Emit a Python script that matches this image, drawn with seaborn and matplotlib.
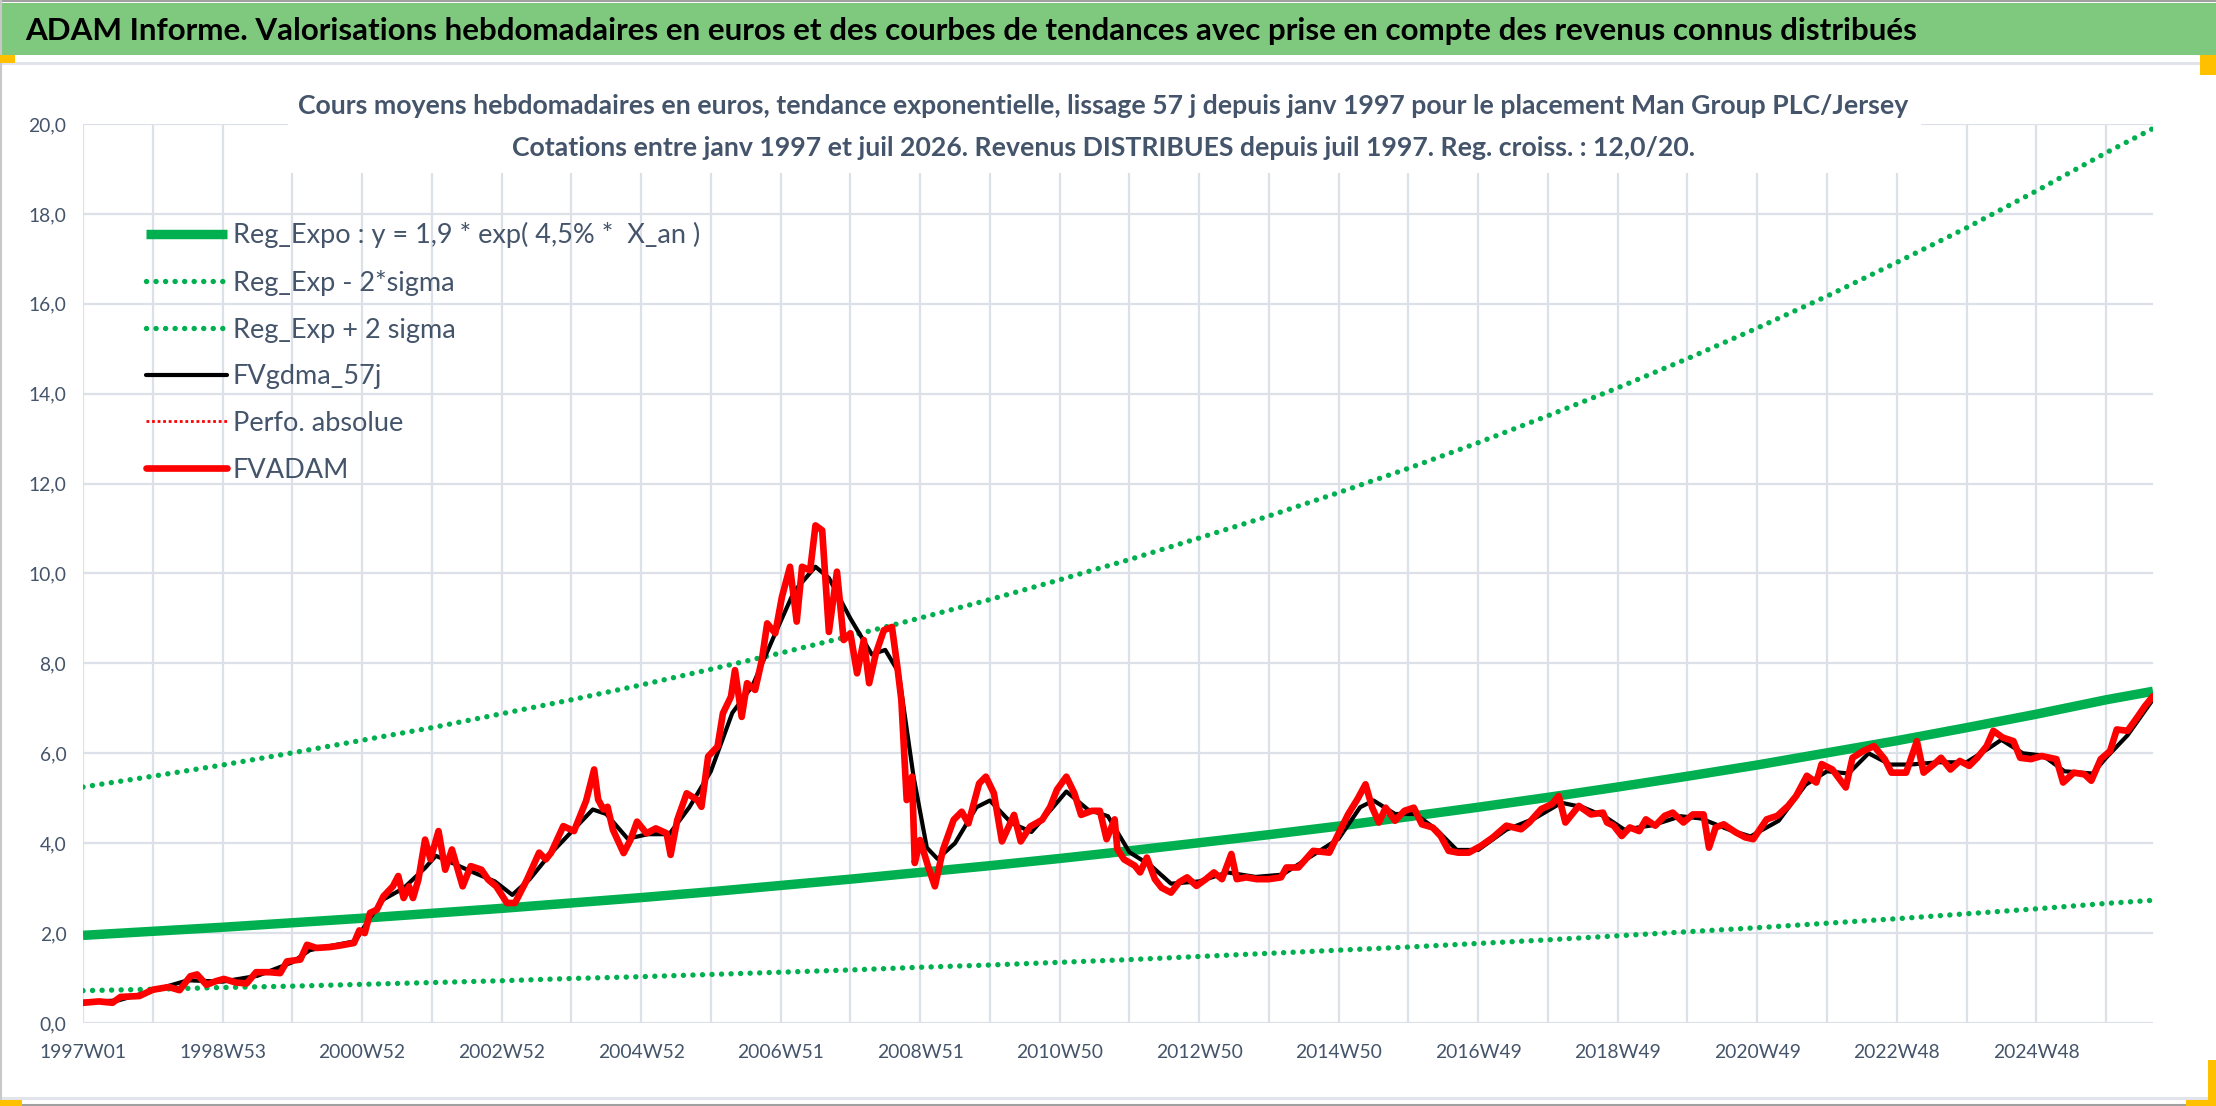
import matplotlib
matplotlib.use('Agg')
import matplotlib.pyplot as plt
import seaborn as sns
from matplotlib.patches import Rectangle
from matplotlib.lines import Line2D

# ---------------- data ----------------
x_labels = ['1997W01', '1998W53', '2000W52', '2002W52', '2004W52', '2006W51', '2008W51',
            '2010W50', '2012W50', '2014W50', '2016W49', '2018W49', '2020W49', '2022W48', '2024W48']

trend_week = [0, 52, 104, 156, 208, 260, 312, 364, 416, 468, 520, 572, 624, 676, 728, 780,
              832, 884, 936, 988, 1040, 1092, 1144, 1196, 1248, 1300, 1352, 1404, 1456, 1508, 1543]
reg_val = [1.95, 2.04, 2.13, 2.23, 2.33, 2.44, 2.55, 2.67, 2.79, 2.92, 3.06, 3.20, 3.35, 3.50, 3.66,
           3.83, 4.01, 4.19, 4.38, 4.59, 4.80, 5.02, 5.25, 5.49, 5.74, 6.01, 6.28, 6.57, 6.87, 7.19, 7.38]
lo_val = [0.72, 0.75, 0.79, 0.82, 0.86, 0.90, 0.94, 0.99, 1.03, 1.08, 1.13, 1.18, 1.24, 1.29, 1.35,
          1.41, 1.48, 1.55, 1.62, 1.69, 1.77, 1.85, 1.94, 2.03, 2.12, 2.22, 2.32, 2.43, 2.54, 2.66, 2.73]
hi_val = [5.25, 5.49, 5.74, 6.01, 6.29, 6.57, 6.88, 7.19, 7.52, 7.87, 8.23, 8.61, 9.01, 9.42, 9.86,
          10.31, 10.79, 11.28, 11.80, 12.34, 12.91, 13.51, 14.13, 14.78, 15.46, 16.17, 16.92, 17.69,
          18.51, 19.36, 19.90]

fv_week = [0, 12, 22, 28, 42, 52, 64, 72, 80, 85, 92, 99, 105, 114, 122, 129, 139, 147, 152, 162,
           167, 174, 184, 191, 202, 206, 210, 214, 219, 224, 231, 235, 239, 243, 246, 250, 255, 259,
           265, 270, 275, 283, 289, 297, 302, 308, 316, 322, 331, 340, 345, 349, 358, 366, 375, 381,
           384, 388, 391, 395, 403, 408, 413, 420, 427, 435, 438, 443, 450, 458, 461, 466, 473, 477,
           483, 486, 491, 495, 501, 506, 510, 516, 521, 527, 532, 536, 542, 546, 551, 556, 562, 567,
           572, 577, 582, 586, 591, 597, 603, 607, 610, 614, 618, 620, 624, 630, 635, 641, 649, 655,
           660, 668, 673, 679, 685, 694, 699, 706, 715, 721, 726, 733, 739, 744, 752, 758, 763, 769,
           771, 776, 784, 788, 793, 799, 804, 811, 817, 823, 830, 837, 843, 849, 856, 860, 867, 875,
           884, 893, 897, 906, 917, 929, 935, 943, 950, 956, 961, 966, 971, 978, 985, 992, 998, 1006,
           1012, 1018, 1025, 1033, 1042, 1051, 1061, 1072, 1078, 1087, 1095, 1100, 1105, 1115, 1124,
           1133, 1136, 1141, 1147, 1153, 1160, 1165, 1172, 1179, 1185, 1193, 1200, 1208, 1212, 1217,
           1223, 1232, 1239, 1245, 1255, 1263, 1271, 1277, 1285, 1292, 1296, 1304, 1314, 1319, 1327,
           1335, 1343, 1348, 1359, 1367, 1372, 1381, 1385, 1392, 1399, 1406, 1412, 1419, 1424, 1431,
           1439, 1444, 1452, 1460, 1471, 1476, 1484, 1492, 1497, 1504, 1511, 1516, 1524, 1531, 1537, 1543]
fv_val = [0.45, 0.48, 0.45, 0.58, 0.60, 0.74, 0.80, 0.73, 1.04, 1.08, 0.85, 0.93, 0.98, 0.90, 0.88,
          1.13, 1.13, 1.11, 1.37, 1.41, 1.74, 1.67, 1.69, 1.72, 1.78, 2.06, 2.00, 2.45, 2.52, 2.82,
          3.04, 3.27, 2.78, 3.04, 2.78, 3.19, 4.08, 3.64, 4.27, 3.41, 3.86, 3.04, 3.49, 3.41, 3.19,
          3.04, 2.67, 2.67, 3.19, 3.79, 3.64, 3.79, 4.38, 4.27, 4.94, 5.64, 4.97, 4.75, 4.81, 4.30,
          3.78, 4.07, 4.48, 4.22, 4.33, 4.22, 3.74, 4.52, 5.11, 4.96, 4.81, 5.93, 6.15, 6.89, 7.26,
          7.85, 6.81, 7.56, 7.41, 8.07, 8.89, 8.67, 9.48, 10.15, 8.93, 10.15, 10.07, 11.07, 10.96,
          8.70, 10.04, 8.52, 8.67, 7.78, 8.52, 7.56, 8.22, 8.74, 8.81, 7.93, 7.19, 4.96, 5.48, 3.56,
          4.07, 3.48, 3.04, 3.85, 4.52, 4.70, 4.44, 5.33, 5.48, 5.11, 4.04, 4.63, 4.04, 4.37, 4.52,
          4.81, 5.19, 5.48, 5.11, 4.63, 4.72, 4.72, 4.09, 4.53, 3.87, 3.64, 3.50, 3.35, 3.68, 3.20,
          3.01, 2.90, 3.13, 3.24, 3.05, 3.20, 3.35, 3.20, 3.76, 3.20, 3.24, 3.20, 3.20, 3.24, 3.46,
          3.46, 3.83, 3.79, 4.16, 4.64, 4.98, 5.31, 4.79, 4.46, 4.79, 4.50, 4.72, 4.79, 4.42, 4.35,
          4.16, 3.83, 3.79, 3.79, 3.94, 4.13, 4.39, 4.31, 4.46, 4.76, 4.87, 5.05, 4.46, 4.83, 4.64,
          4.68, 4.46, 4.39, 4.16, 4.35, 4.27, 4.53, 4.39, 4.61, 4.68, 4.46, 4.64, 4.64, 3.90, 4.35,
          4.42, 4.24, 4.13, 4.09, 4.53, 4.61, 4.83, 5.05, 5.50, 5.35, 5.76, 5.64, 5.24, 5.90, 6.05,
          6.16, 5.87, 5.57, 5.57, 6.27, 5.57, 5.79, 5.90, 5.64, 5.83, 5.72, 5.90, 6.16, 6.50, 6.35,
          6.27, 5.90, 5.87, 5.94, 5.87, 5.35, 5.57, 5.53, 5.39, 5.87, 6.05, 6.53, 6.50, 6.79, 7.05, 7.27]

gdma_week = [0, 26, 52, 78, 104, 130, 156, 169, 182, 203, 213, 224, 239, 255, 263, 276, 291, 307,
             320, 333, 348, 364, 380, 390, 406, 421, 437, 452, 468, 484, 499, 515, 530, 546, 556,
             572, 588, 598, 608, 619, 629, 637, 650, 666, 676, 692, 707, 723, 733, 749, 764, 780,
             796, 811, 832, 853, 874, 894, 915, 936, 952, 962, 978, 993, 1009, 1024, 1040, 1061,
             1082, 1102, 1118, 1134, 1149, 1170, 1191, 1206, 1227, 1243, 1264, 1284, 1300, 1316,
             1331, 1347, 1362, 1383, 1404, 1420, 1430, 1446, 1461, 1477, 1498, 1508, 1524, 1543]
gdma_val = [0.47, 0.50, 0.72, 0.95, 0.92, 1.05, 1.35, 1.62, 1.70, 1.82, 2.30, 2.75, 3.00, 3.45,
            3.72, 3.55, 3.35, 3.15, 2.85, 3.20, 3.75, 4.25, 4.75, 4.65, 4.10, 4.20, 4.20, 4.80,
            5.60, 6.90, 7.50, 8.60, 9.60, 10.15, 9.90, 9.00, 8.20, 8.30, 7.80, 5.50, 3.90, 3.65,
            4.00, 4.80, 4.95, 4.45, 4.25, 4.80, 5.15, 4.75, 4.60, 3.80, 3.50, 3.10, 3.15, 3.35,
            3.25, 3.30, 3.70, 4.10, 4.80, 4.95, 4.65, 4.65, 4.30, 3.85, 3.85, 4.30, 4.55, 4.90,
            4.80, 4.60, 4.30, 4.40, 4.60, 4.55, 4.30, 4.15, 4.50, 5.30, 5.60, 5.55, 6.00, 5.75,
            5.75, 5.80, 5.80, 6.10, 6.30, 6.00, 5.95, 5.60, 5.55, 5.90, 6.40, 7.20]

y_ticks = [0, 2, 4, 6, 8, 10, 12, 14, 16, 18, 20]

title = ("ADAM Informe. Valorisations hebdomadaires en euros et des courbes de tendances "
         "avec prise en compte des revenus connus distribués")
sub1 = ("Cours moyens hebdomadaires en euros, tendance exponentielle, lissage 57 j depuis "
        "janv 1997 pour le placement Man Group PLC/Jersey")
sub2 = ("Cotations entre janv 1997 et juil 2026. Revenus DISTRIBUES depuis juil 1997. "
        "Reg. croiss. : 12,0/20.")
leg_labels = ['Reg_Expo : y = 1,9 * exp( 4,5% *  X_an )', 'Reg_Exp - 2*sigma', 'Reg_Exp + 2 sigma',
              'FVgdma_57j', 'Perfo. absolue', 'FVADAM']

# ---------------- style ----------------
sns.set_theme(style='white')
plt.rcParams['font.family'] = ['Lato', 'Open Sans', 'DejaVu Sans']

GREEN = '#00B050'
RED = '#FF0000'
GRID = '#DCE0E8'
TXT = '#44546A'
W, H = 2216, 1106

fig = plt.figure(figsize=(W / 100, H / 100), dpi=100)
fig.patch.set_facecolor('white')
ax = fig.add_axes([83 / W, (H - 1023) / H, (2153 - 83) / W, (1023 - 124) / H])

fig.canvas.draw()
renderer = fig.canvas.get_renderer()


def fit_size(s, target_w, weight='normal', ref=20):
    t = fig.text(0, 0, s, fontsize=ref, weight=weight)
    w = t.get_window_extent(renderer).width
    t.remove()
    return ref * target_w / w


dot = (0, (0.01, 1.75))
sns.lineplot(x=trend_week, y=reg_val, ax=ax, color=GREEN, lw=6.8, label=leg_labels[0],
             solid_capstyle='butt')
sns.lineplot(x=trend_week, y=lo_val, ax=ax, color=GREEN, lw=3.9, linestyle=dot,
             dash_capstyle='round', label=leg_labels[1])
sns.lineplot(x=trend_week, y=hi_val, ax=ax, color=GREEN, lw=3.9, linestyle=dot,
             dash_capstyle='round', label=leg_labels[2])
sns.lineplot(x=gdma_week, y=gdma_val, ax=ax, color='black', lw=3.0, label=leg_labels[3])
ax.plot([], [], color=RED, lw=2.0, linestyle=(0, (1, 1)), label=leg_labels[4])
sns.lineplot(x=fv_week, y=fv_val, ax=ax, color=RED, lw=4.8, label=leg_labels[5],
             solid_joinstyle='round')

ax.set_xlim(0, 1543)
ax.set_ylim(0, 20)
for s in ax.spines.values():
    s.set_visible(False)
ax.grid(True, color=GRID, lw=1.6)
ax.set_axisbelow(True)

tick_fs = fit_size('1997W01', 87)
xt = list(range(0, 1509, 52))
ax.set_xticks(xt)
ax.set_xticklabels([x_labels[i // 2] if i % 2 == 0 else '' for i in range(len(xt))])
ax.set_yticks(y_ticks)
ax.set_yticklabels([f"{v:.1f}".replace('.', ',') for v in y_ticks])
ax.tick_params(axis='x', length=6, width=1.6, color=GRID, labelsize=tick_fs, labelcolor=TXT, pad=9)
ax.tick_params(axis='y', length=0, labelsize=tick_fs, labelcolor=TXT, pad=12)
ax.set_xlabel('')
ax.set_ylabel('')

leg_fs = fit_size(leg_labels[0], 467)
h, l = ax.get_legend_handles_labels()
leg = ax.legend(h, l, loc='upper left', bbox_to_anchor=(146 / W, 1 - 222 / H),
                bbox_transform=fig.transFigure, frameon=False, fontsize=leg_fs,
                handlelength=3.0, handletextpad=0.2, labelspacing=0.8, borderpad=0,
                borderaxespad=0, labelcolor=TXT)

# ---------------- banner, subtitle, decorations ----------------
fig.patches.append(Rectangle((0, 1 - 55 / H), 1, 52 / H, transform=fig.transFigure,
                             facecolor='#7FC97F', edgecolor='none', zorder=1))
t_fs = fit_size(title, 1897, weight='bold')
fig.text(25 / W, 1 - 31 / H, title, fontsize=t_fs, weight='bold', color='black',
         va='center', ha='left', zorder=3)

fig.patches.append(Rectangle((288 / W, 1 - 173 / H), (1921 - 288) / W, (173 - 66) / H,
                             transform=fig.transFigure, facecolor='white', edgecolor='none',
                             zorder=1))
s_fs = fit_size(sub1, 1613, weight='bold')
fig.text(1103 / W, 1 - 106 / H, sub1, fontsize=s_fs, weight='bold', color=TXT,
         ha='center', va='center', zorder=3)
fig.text(1103 / W, 1 - 148 / H, sub2, fontsize=s_fs, weight='bold', color=TXT,
         ha='center', va='center', zorder=3)


def hline(y, c, lw):
    fig.lines.append(Line2D([0, 1], [1 - y / H, 1 - y / H], transform=fig.transFigure,
                            color=c, lw=lw, zorder=2))


hline(1, '#A0A0A0', 1.5)
hline(63, '#E1E4EA', 2.2)
hline(1098, '#E1E4EA', 2.2)
hline(1105, '#A0A0A0', 1.5)
fig.lines.append(Line2D([1 / W, 1 / W], [0, 1], transform=fig.transFigure, color='#C8C8C8',
                        lw=1.5, zorder=2))

for (x0, y0, w, hh) in [(0, 55, 15, 8), (2200, 55, 16, 20), (0, 1100, 22, 6),
                        (2208, 1060, 8, 46), (2186, 1100, 30, 6)]:
    fig.patches.append(Rectangle((x0 / W, 1 - (y0 + hh) / H), w / W, hh / H,
                                 transform=fig.transFigure, facecolor='#FFC000',
                                 edgecolor='none', zorder=2))

fig.savefig('out.png', dpi=100)
